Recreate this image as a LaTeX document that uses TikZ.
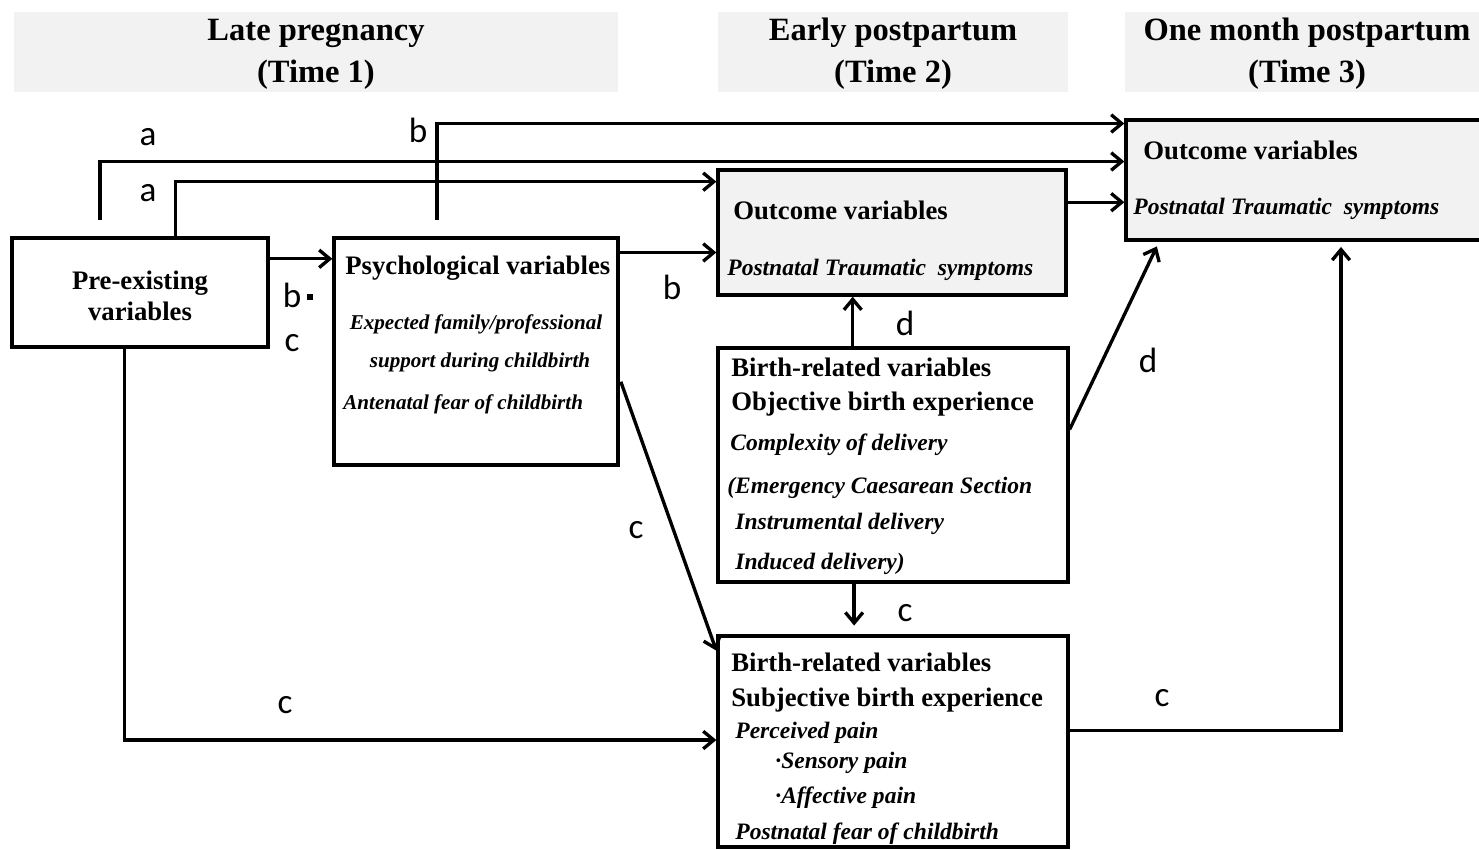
\documentclass[tikz,border=0pt]{standalone}
\usepackage{fontspec}
\setmainfont{Liberation Serif}
\newfontfamily\labfont{Carlito}
\usetikzlibrary{calc,fit,arrows.meta}

\definecolor{hdrgrey}{HTML}{F2F2F2}

\tikzset{
  hdr/.style={fill=hdrgrey,inner sep=0pt},
  hdrtxt/.style={align=center,inner sep=0pt,font=\fontsize{18.5}{24}\selectfont\bfseries},
  box/.style={draw,line width=1.9pt,inner sep=0pt},
  outbox/.style={box,fill=hdrgrey},
  ttl/.style={anchor=west,inner sep=0pt,font=\fontsize{15.2}{18}\selectfont\bfseries},
  itl/.style={anchor=west,inner sep=0pt,font=\fontsize{13.4}{16}\selectfont\bfseries\itshape},
  sitl/.style={itl,font=\fontsize{12}{14}\selectfont\bfseries\itshape},
  lab/.style={inner sep=0pt,font=\fontsize{20}{22}\selectfont\labfont},
  arr/.style={line width=1.9pt,-{Straight Barb[length=6pt,width=10pt]}}
}

\begin{document}
\begin{tikzpicture}[x=0.2mm,y=-0.2mm]
\useasboundingbox (0,0) rectangle (1479,849);

% time headers
\node[hdr,fit={(14,12) (618,92)}] (h1) {};
\node[hdr,fit={(718,12) (1068,92)}] (h2) {};
\node[hdr,fit={(1125,12) (1479,92)}] (h3) {};
\node[hdrtxt] (h1-t) at (316,54) {Late pregnancy\\(Time 1)};
\node[hdrtxt] (h2-t) at (893,54) {Early postpartum\\(Time 2)};
\node[hdrtxt] (h3-t) at (1307,54) {One month postpartum\\(Time 3)};

% boxes
\node[box,fit={(12,238) (268,347)}] (pre) {};
\node[box,fit={(334,238) (618,465)}] (psy) {};
\node[outbox,fit={(718,170) (1066,295)}] (out2) {};
\node[outbox,fit={(1126,120) (1485,240)}] (out3) {};
\node[box,fit={(718,348) (1068,582)}] (obj) {};
\node[box,fit={(718,636) (1068,847)}] (subj) {};

% box texts
\node[ttl,anchor=center,align=center] (pre-t) at (140,296) {Pre-existing\\variables};

\node[ttl] (psy-t) at (345,268) {Psychological variables};
\node[sitl,anchor=center] (psy-i1) at (476,324) {Expected family/professional};
\node[sitl,anchor=center] (psy-i2) at (480,362) {support during childbirth};
\node[sitl] (psy-i3) at (343,404) {Antenatal fear of childbirth};

\node[ttl] (out2-t) at (733,210) {Outcome variables};
\node[itl] (out2-i) at (727,270) {Postnatal Traumatic\ \ symptoms};
\node[ttl] (out3-t) at (1143,150) {Outcome variables};
\node[itl] (out3-i) at (1133,209) {Postnatal Traumatic\ \ symptoms};

\node[ttl] (obj-t1) at (731,367) {Birth-related variables};
\node[ttl] (obj-t2) at (731,404) {Objective birth experience};
\node[itl] (obj-i1) at (730,445) {Complexity of delivery};
\node[itl] (obj-i2) at (727,488) {(Emergency Caesarean Section};
\node[itl] (obj-i3) at (735,524) {Instrumental delivery};
\node[itl] (obj-i4) at (735,564) {Induced delivery)};

\node[ttl] (subj-t1) at (731,662) {Birth-related variables};
\node[ttl] (subj-t2) at (731,700) {Subjective birth experience};
\node[itl] (subj-i1) at (735,733) {Perceived pain};
\node[itl] (subj-i2) at (775,763) {·Sensory pain};
\node[itl] (subj-i3) at (775,798) {·Affective pain};
\node[itl] (subj-i4) at (735,834) {Postnatal fear of childbirth};

% paths
\coordinate (a1) at (100,220);
\coordinate (b1) at (437,220);
\draw[arr] (a1) |- ($(out3.north west)!0.35!(out3.south west)$);
\draw[arr] ($(pre.north west)!0.637!(pre.north east)$) |- ($(out2.north west)!0.104!(out2.south west)$);
\draw[arr] (b1) |- ($(out3.north west)!0.042!(out3.south west)$);

\draw[arr] ($(pre.north east)!0.2!(pre.south east)$) coordinate (p1) -- (p1 -| psy.west);
\draw[arr] ($(psy.north east)!0.07!(psy.south east)$) coordinate (p2) -- (p2 -| out2.west);
\draw[arr] ($(out2.north east)!0.264!(out2.south east)$) coordinate (p3) -- (p3 -| out3.west);
\draw[arr] ($(obj.north west)!0.386!(obj.north east)$) coordinate (p4) -- (p4 |- out2.south);
\draw[arr,shorten >=3pt] ($(obj.north east)!0.35!(obj.south east)$) -- ($(out3.south west)!0.096!(out3.south east)$);
\draw[arr,shorten <=2pt] ($(psy.north east)!0.617!(psy.south east)$) -- ($(subj.north west)!0.076!(subj.south west)$);
\draw[arr,shorten >=5pt] ($(obj.south west)!0.39!(obj.south east)$) coordinate (p5) -- (p5 |- subj.north);
\draw[arr] ($(pre.south west)!0.44!(pre.south east)$) |- ($(subj.north west)!0.493!(subj.south west)$);
\draw[arr,shorten >=3pt] ($(subj.north east)!0.45!(subj.south east)$) -| ($(out3.south west)!0.598!(out3.south east)$);

% path labels
\node[lab] (la1) at (148,137) {a};
\node[lab] (la2) at (148,193) {a};
\node[lab] (lb1) at (418,130) {b};
\node[lab] (lb2) at (298,295) {b\,\raisebox{0.2em}{\rule{3.4pt}{3.4pt}}};
\node[lab] (lc1) at (292,343) {c};
\node[lab] (lb3) at (672,287) {b};
\node[lab] (ld1) at (905,323) {d};
\node[lab] (ld2) at (1148,360) {d};
\node[lab] (lc2) at (636,530) {c};
\node[lab] (lc3) at (905,613) {c};
\node[lab] (lc4) at (285,705) {c};
\node[lab] (lc5) at (1162,698) {c};
\end{tikzpicture}
\end{document}
